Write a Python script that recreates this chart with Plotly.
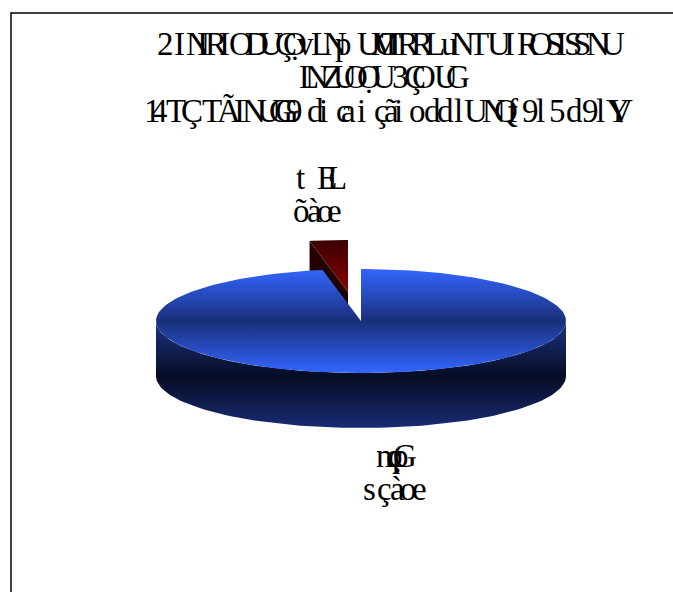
import numpy as np
import plotly.graph_objects as go

# Chart data
CATEGORIES = ["nçp6 sçàoe", "t EL õàoe"]
VALUES = [97, 3]

# Title and label glyphs (the reference's text is set with overlapping glyphs)
LINE1 = list("2INIRIODUÇỌvLNpUMCTIRRLuNTUIROSISSNU")
LINE1_X = [156,173,185,196,204,218,228,244,258,274,282,296,310,322,334,  356,370,374,
           380,388,396,410,424,440,450,468,486,503,516,528,544,555,563,572,585,600][:len(LINE1)]
LINE2 = list("LNZUOỌU3ÇOUG")
LINE2_X = [298,304,321,332,343,356,371,391,403,411,433,445]
LINE3 = list("14TÇTÃINUGG9dicaiçãioddlUNQf9l5d9lYV")
LINE3_X = [143,150,165,180,201,216,233,241,256,268,274,285,306,318,335,340,356,373,
           383,393,408,423,436,453,463,481,493,506,521,535,548,565,581,595,605,608]
LABEL_A1 = list("tEL"); LABEL_A1_X = [295,316,326]
LABEL_A2 = list("õàoe"); LABEL_A2_X = [292,306,316,326]
LABEL_B1 = list("noçpG"); LABEL_B1_X = [375,385,387,391,392]
LABEL_B2 = list("sçàoe"); LABEL_B2_X = [362,376,389,399,411]

# Geometry of the drawing (pixels)
CX, CY, RX, RY, DEPTH = 361, 321, 205, 52, 55
EXPL_X, EXPL_Y = -13, -29
FS = 33
TEXT_COLOR = "#000000"

frac = VALUES[1] / sum(VALUES)
split = 2 * np.pi * (1 - frac)


def rim(theta, cx=CX, cy=CY):
    return cx + RX * np.sin(theta), cy - RY * np.cos(theta)


fig = go.Figure()


def poly(xs, ys, scale, start, stop):
    fig.add_trace(go.Scatter(
        x=xs, y=ys, mode="lines", line=dict(width=0), fill="toself", hoverinfo="skip",
        showlegend=False,
        fillgradient=dict(type="vertical", colorscale=scale, start=start, stop=stop),
    ))


# exploded slice: cut side, then top face
sx, sy = CX + EXPL_X, CY + EXPL_Y
ex, ey = rim(split, sx, sy)
poly([sx, ex, ex, sx, sx], [sy, ey, ey + DEPTH, sy + DEPTH, sy],
     [[0, "#2a0000"], [1, "#100000"]], ey, sy + DEPTH)
t = np.linspace(split, 2 * np.pi, 20)
ax, ay = rim(t, sx, sy)
poly(np.r_[sx, ax, sx], np.r_[sy, ay, sy],
     [[0, "#3a0000"], [1, "#8c0000"]], sy - RY, sy)

# blue side wall
t = np.linspace(np.pi / 2, 3 * np.pi / 2, 90)
ax, ay = rim(t)
poly(np.r_[ax, ax[::-1]], np.r_[ay, ay[::-1] + DEPTH],
     [[0, "#1c3484"], [0.52, "#060c24"], [1, "#182c74"]], CY, CY + RY + DEPTH)
# blue top face
t = np.linspace(0, split, 200)
ax, ay = rim(t)
poly(np.r_[CX, ax, CX], np.r_[CY, ay, CY],
     [[0, "#3366ff"], [0.5, "#1a2f7a"], [1, "#3366ff"]], CY - RY, CY + RY)

annotations = []
BASE_OFF = 8
for chars, xs, base in [(LINE1, LINE1_X, 55), (LINE2, LINE2_X, 88), (LINE3, LINE3_X, 122),
                        (LABEL_A1, LABEL_A1_X, 189), (LABEL_A2, LABEL_A2_X, 222),
                        (LABEL_B1, LABEL_B1_X, 467), (LABEL_B2, LABEL_B2_X, 500)]:
    for c, x in zip(chars, xs):
        annotations.append(dict(x=x, y=base + BASE_OFF, text=c, showarrow=False, xanchor="left",
                                yanchor="bottom", borderpad=0, xref="x", yref="y",
                                font=dict(family="Liberation Serif", size=FS, color=TEXT_COLOR)))

fig.update_layout(
    width=673, height=592, margin=dict(l=0, r=0, t=0, b=0),
    paper_bgcolor="white", plot_bgcolor="white", showlegend=False,
    xaxis=dict(range=[0, 673], visible=False, fixedrange=True),
    yaxis=dict(range=[592, 0], visible=False, fixedrange=True),
    annotations=annotations,
    shapes=[dict(type="path", path="M 11 592 L 11 13 L 673 13", xref="x", yref="y",
                 line=dict(color="#000000", width=1.5))],
)
fig.write_html("out.html", config=dict(displayModeBar=False),
               post_script="document.body.style.margin='0';")
